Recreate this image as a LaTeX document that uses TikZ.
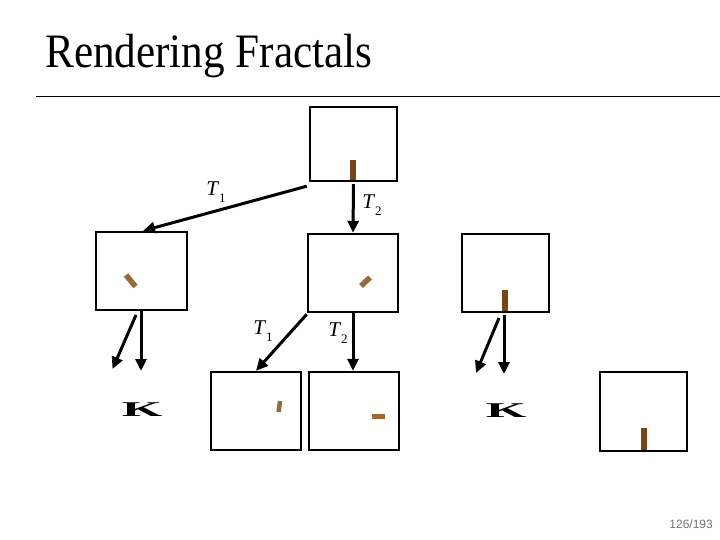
\documentclass[tikz,border=0pt]{standalone}
\usepackage{fontspec}
\setmainfont{Liberation Serif}
\newfontfamily\pagefont{Liberation Sans}
\usetikzlibrary{arrows.meta}
\definecolor{darkbrown}{HTML}{7A4515}
\definecolor{lightbrown}{HTML}{9A6B3A}
\newcommand{\Tlab}[1]{\fontsize{21}{21}\selectfont\textit{T}\raisebox{-0.32em}{\fontsize{13}{13}\selectfont #1}}
\tikzset{
  frame/.style={draw=black, line width=2.4pt, fill=white, inner sep=0pt},
  conn/.style={line width=3pt, -{Triangle[length=12pt,width=11pt]}},
  stick/.style={line width=5.5pt},
  tlabel/.style={inner sep=0pt},
}
\begin{document}
\begin{tikzpicture}[x=1pt,y=-1pt]
\useasboundingbox (0,0) rectangle (720,540);
% title and rule
\node[anchor=base west, inner sep=0pt] (title) at (45,68)
  {\scalebox{0.9}[1]{\fontsize{48}{48}\selectfont Rendering Fractals}};
\coordinate (ruleL) at (36,96.5);
\coordinate (ruleR) at (720,96.5);
\draw[line width=1pt] (ruleL) -- (ruleR);
% boxes
\node[frame, minimum width=87pt, minimum height=74pt] (top) at (353.5,144) {};
\node[frame, minimum width=91pt, minimum height=78pt] (b1) at (141.5,271) {};
\node[frame, minimum width=90pt, minimum height=78pt] (b2) at (353,273) {};
\node[frame, minimum width=87pt, minimum height=78pt] (b3) at (505.5,273) {};
\node[frame, minimum width=90pt, minimum height=78pt] (b4) at (256,411) {};
\node[frame, minimum width=90pt, minimum height=78pt] (b5) at (354,411) {};
\node[frame, minimum width=87pt, minimum height=79pt] (b6) at (643.5,411.5) {};
% sticks
\draw[stick, line width=6pt, darkbrown] (353,160) -- (353,180);
\draw[stick, lightbrown] (126,275) -- (135.5,286.5);
\draw[stick, lightbrown] (370,277.5) -- (361,286);
\draw[stick, line width=6pt, darkbrown] (505,290) -- (505,311);
\draw[stick, line width=4.5pt, lightbrown] (280,401) -- (278.6,412);
\draw[stick, lightbrown] (371.5,416.5) -- (385,416.5);
\draw[stick, line width=6pt, darkbrown] (643.5,428) -- (643.5,449.5);
% connectors level 1
\draw[conn] ([xshift=-2pt,yshift=-4pt]top.south west) -- ([xshift=1.5pt]b1.north);
\draw[conn] ([yshift=-2pt]top.south) -- (b2.north);
\node[tlabel] (t1a) at (216,192) {\Tlab{1}};
\node[tlabel] (t2a) at (372,205) {\Tlab{2}};
% connectors level 2
\coordinate (e1a) at (141,371);
\coordinate (e1b) at (112.5,369);
\coordinate (s1b) at (136,315);
\draw[conn] ([xshift=-0.5pt]b1.south) -- (e1a);
\draw[conn] (s1b) -- (e1b);
\draw[conn] ([yshift=-1pt]b2.south west) -- (b4.north);
\draw[conn] (b2.south) -- ([xshift=-1pt]b5.north);
\node[tlabel] (t1b) at (263,331) {\Tlab{1}};
\node[tlabel] (t2b) at (338,333) {\Tlab{2}};
\coordinate (e3a) at (504,374);
\coordinate (s3b) at (499,318);
\coordinate (e3b) at (476,373);
\draw[conn] ([xshift=-1.5pt,yshift=-2pt]b3.south) -- (e3a);
\draw[conn] (s3b) -- (e3b);
% K glyphs
\node[inner sep=0pt] (k1) at (142,409.5) {\scalebox{2.6}[1.05]{\fontsize{20}{20}\selectfont\bfseries K}};
\node[inner sep=0pt] (k2) at (506,410.5) {\scalebox{2.6}[1.05]{\fontsize{20}{20}\selectfont\bfseries K}};
% page number
\node[anchor=base east, inner sep=0pt, text=black!55] (pg) at (713,528)
  {\pagefont\fontsize{12}{12}\selectfont 126/193};
\end{tikzpicture}
\end{document}
